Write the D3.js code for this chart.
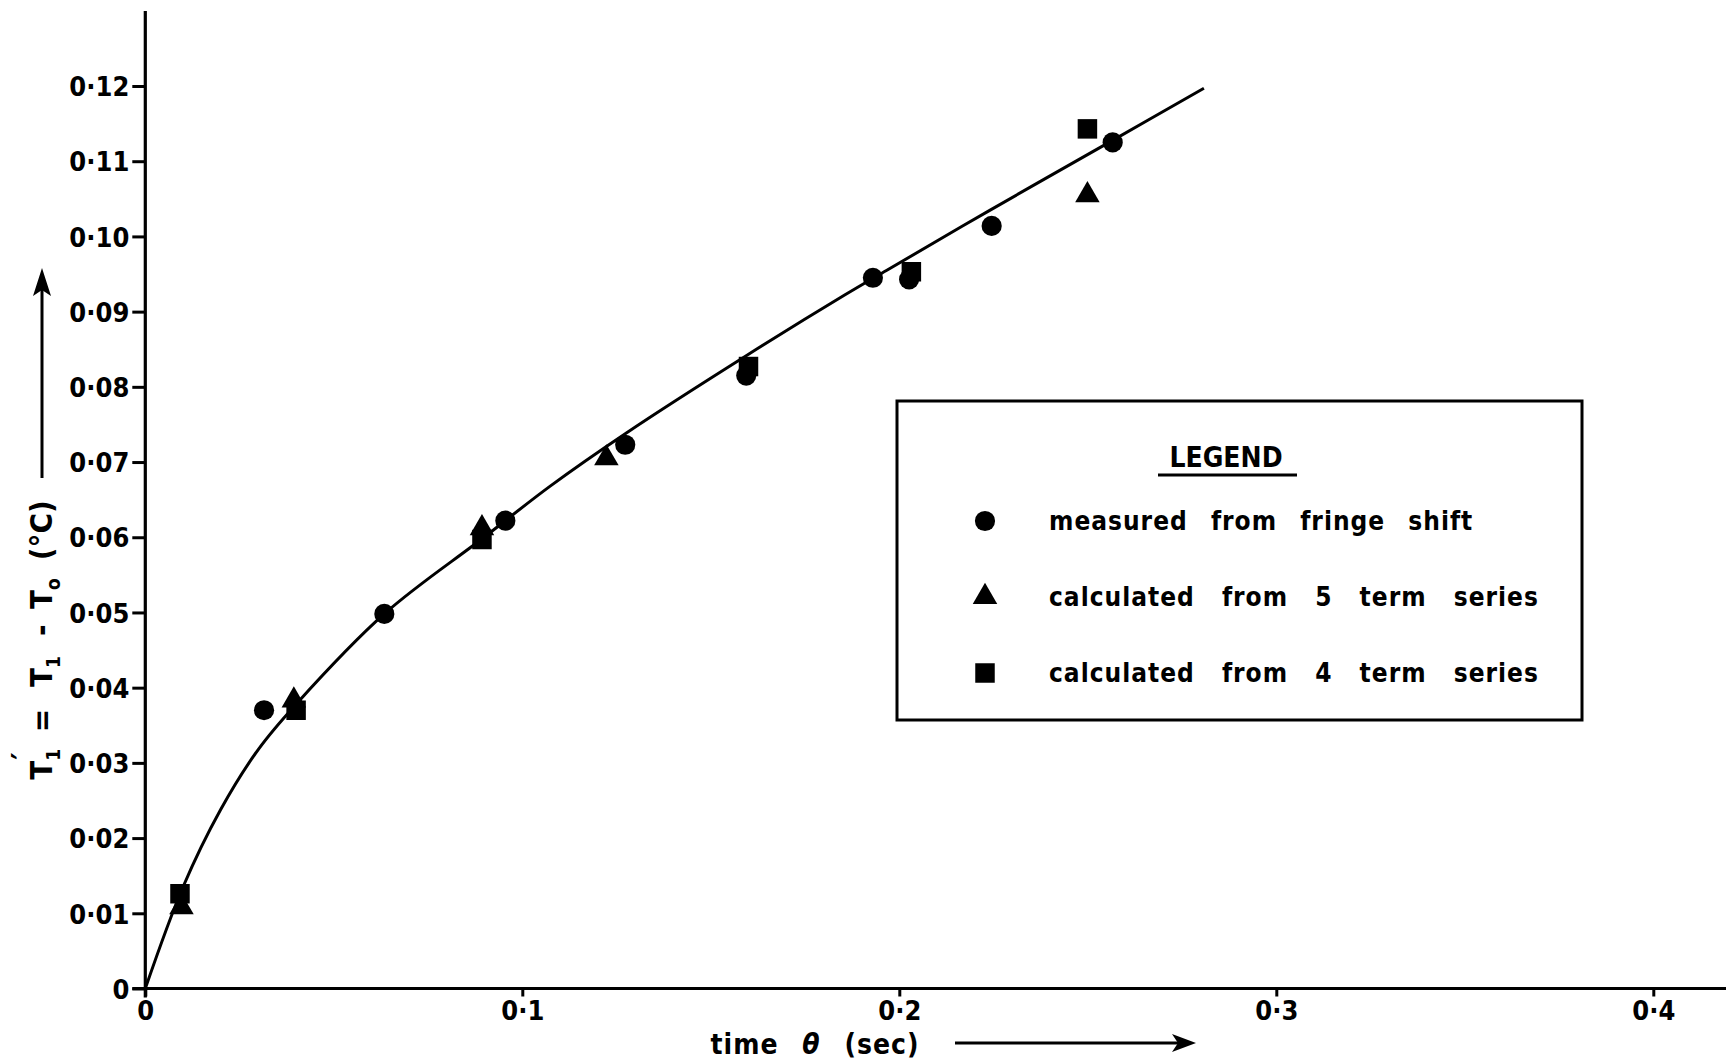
<!DOCTYPE html>
<html>
<head>
<meta charset="utf-8">
<script src="https://cdn.jsdelivr.net/npm/d3@7"></script>
<style>
  body { margin: 0; background: #fff; }
  text { font-family: "DejaVu Sans Condensed", "DejaVu Sans", sans-serif; fill: #000; }
</style>
</head>
<body>
<div id="chart"></div>
<script>
// Data
// ==============================
var measured = [
  [0.0315, 0.0370], [0.0634, 0.0498], [0.0955, 0.0622], [0.1273, 0.0723],
  [0.1594, 0.0815], [0.1930, 0.0945], [0.2026, 0.0943], [0.2245, 0.1014],
  [0.2566, 0.1125]
];
var fiveTerm = [
  [0.0096, 0.0108], [0.0394, 0.0383], [0.0893, 0.0612], [0.1223, 0.0705],
  [0.2499, 0.1055]
];
var fourTerm = [
  [0.0092, 0.0126], [0.0400, 0.0370], [0.0893, 0.0597], [0.1600, 0.0827],
  [0.2032, 0.0953], [0.2499, 0.1143]
];
var curvePts = [
  [0, 0], [0.0100, 0.0135], [0.0200, 0.0238], [0.0300, 0.0318], [0.0400, 0.0378],
  [0.0636, 0.0499], [0.0896, 0.0599], [0.1074, 0.0668],
  [0.1277, 0.0739], [0.1596, 0.0842], [0.1855, 0.0922], [0.1967, 0.0955],
  [0.2241, 0.1035], [0.2567, 0.1128], [0.2808, 0.1197]
];
var xTicks = [0, 0.1, 0.2, 0.3, 0.4];
var yTicks = [0, 0.01, 0.02, 0.03, 0.04, 0.05, 0.06, 0.07, 0.08, 0.09, 0.10, 0.11, 0.12];
var legendLabels = ["measured from fringe shift", "calculated from 5 term series", "calculated from 4 term series"];
var legendWordGap = [14, 18, 18];

var svgWidth = 1726;
var svgHeight = 1063;

var svg = d3.select("#chart")
  .append("svg")
  .attr("width", svgWidth)
  .attr("height", svgHeight);

var x = d3.scaleLinear().domain([0, 0.4]).range([145.3, 1653.3]);
var y = d3.scaleLinear().domain([0, 0.12]).range([988.5, 86]);

var fmt = function(p) {
  return function(d) { return d === 0 ? "0" : d3.format(p)(d).replace(".", "\u00B7"); };
};

// Axes
// ==============================
var yAxis = svg.append("g")
  .attr("transform", `translate(${x(0)},0)`)
  .call(d3.axisLeft(y).tickValues(yTicks).tickSize(13).tickPadding(3).tickFormat(fmt(".2f")));
yAxis.select(".domain").remove();
yAxis.selectAll("line").attr("stroke-width", 3);
yAxis.selectAll("text").attr("font-size", 27).attr("font-weight", "bold").attr("dy", "0.36em");

var xAxis = svg.append("g")
  .attr("transform", `translate(0,${y(0)})`)
  .call(d3.axisBottom(x).tickValues(xTicks).tickSize(8).tickPadding(4).tickFormat(fmt(".1f")));
xAxis.select(".domain").remove();
xAxis.selectAll("line").attr("stroke-width", 3);
xAxis.selectAll("text").attr("font-size", 27).attr("font-weight", "bold");

// axis lines
svg.append("line")
  .attr("x1", x(0)).attr("x2", x(0)).attr("y1", 11).attr("y2", y(0) + 9)
  .attr("stroke", "#000").attr("stroke-width", 3.2);
svg.append("line")
  .attr("x1", x(0) - 13).attr("x2", svgWidth).attr("y1", y(0)).attr("y2", y(0))
  .attr("stroke", "#000").attr("stroke-width", 3.2);

// Fitted curve
// ==============================
svg.append("path")
  .datum(curvePts)
  .attr("fill", "none")
  .attr("stroke", "#000")
  .attr("stroke-width", 3)
  .attr("d", d3.line().x(d => x(d[0])).y(d => y(d[1])).curve(d3.curveCatmullRom.alpha(0.5)));

// Markers
// ==============================
var sym = {
  circle: d3.symbol().type(d3.symbolCircle).size(320),
  triangle: d3.symbol().type(d3.symbolTriangle).size(260),
  square: d3.symbol().type(d3.symbolSquare).size(380)
};

function drawPoints(data, shape) {
  svg.append("g").selectAll("path")
    .data(data)
    .enter()
    .append("path")
    .attr("transform", d => `translate(${x(d[0])},${y(d[1])})`)
    .attr("d", sym[shape])
    .attr("fill", "#000");
}
drawPoints(fourTerm, "square");
drawPoints(fiveTerm, "triangle");
drawPoints(measured, "circle");

// Axis titles
// ==============================
var xTitle = svg.append("text")
  .attr("x", 815).attr("y", 1054)
  .attr("text-anchor", "middle")
  .attr("font-size", 28)
  .attr("font-weight", "bold")
  .attr("letter-spacing", 1)
  .attr("word-spacing", 14);
xTitle.append("tspan").text("time ");
xTitle.append("tspan").attr("font-style", "italic").text("\u03B8");
xTitle.append("tspan").text(" (sec)");

svg.append("line")
  .attr("x1", 955).attr("x2", 1180).attr("y1", 1043).attr("y2", 1043)
  .attr("stroke", "#000").attr("stroke-width", 3);
svg.append("path")
  .attr("d", "M1196,1043 L1172,1034 L1178,1043 L1172,1052 Z")
  .attr("fill", "#000");

var yTitle = svg.append("text")
  .attr("transform", "translate(52,640) rotate(-90)")
  .attr("text-anchor", "middle")
  .attr("font-size", 31)
  .attr("font-weight", "bold");
yTitle.append("tspan").text("T");
yTitle.append("tspan").attr("font-size", 19).attr("dy", 8).text("1");
yTitle.append("tspan").attr("dx", -11).attr("dy", -27).text("\u2032");
yTitle.append("tspan").attr("dx", 20).attr("dy", 19).text("=");
yTitle.append("tspan").attr("dx", 22).text("T");
yTitle.append("tspan").attr("font-size", 19).attr("dy", 8).text("1");
yTitle.append("tspan").attr("dx", 20).attr("dy", -8).text("-");
yTitle.append("tspan").attr("dx", 20).text("T");
yTitle.append("tspan").attr("font-size", 19).attr("dy", 8).text("o");
yTitle.append("tspan").attr("dx", 18).attr("dy", -8).text("(\u00B0C)");

svg.append("line")
  .attr("x1", 42).attr("x2", 42).attr("y1", 478).attr("y2", 285)
  .attr("stroke", "#000").attr("stroke-width", 3);
svg.append("path")
  .attr("d", "M42,268 L33,296 L42,290 L51,296 Z")
  .attr("fill", "#000");

// Legend
// ==============================
var legend = svg.append("g");
legend.append("rect")
  .attr("x", 897).attr("y", 401).attr("width", 685).attr("height", 319)
  .attr("fill", "#fff").attr("stroke", "#000").attr("stroke-width", 3);
legend.append("text")
  .attr("x", 1226).attr("y", 467)
  .attr("text-anchor", "middle")
  .attr("font-size", 28)
  .attr("font-weight", "bold")
  .text("LEGEND");
legend.append("line")
  .attr("x1", 1158).attr("x2", 1297).attr("y1", 475).attr("y2", 475)
  .attr("stroke", "#000").attr("stroke-width", 3);

var shapes = ["circle", "triangle", "square"];
legendLabels.forEach(function(label, i) {
  var cy = 521 + i * 76;
  legend.append("path")
    .attr("transform", `translate(985,${cy})`)
    .attr("d", sym[shapes[i]])
    .attr("fill", "#000");
  legend.append("text")
    .attr("x", 1049).attr("y", cy + 9)
    .attr("font-size", 26)
    .attr("font-weight", "bold")
    .attr("letter-spacing", 1)
    .attr("word-spacing", legendWordGap[i])
    .text(label);
});
</script>
</body>
</html>
